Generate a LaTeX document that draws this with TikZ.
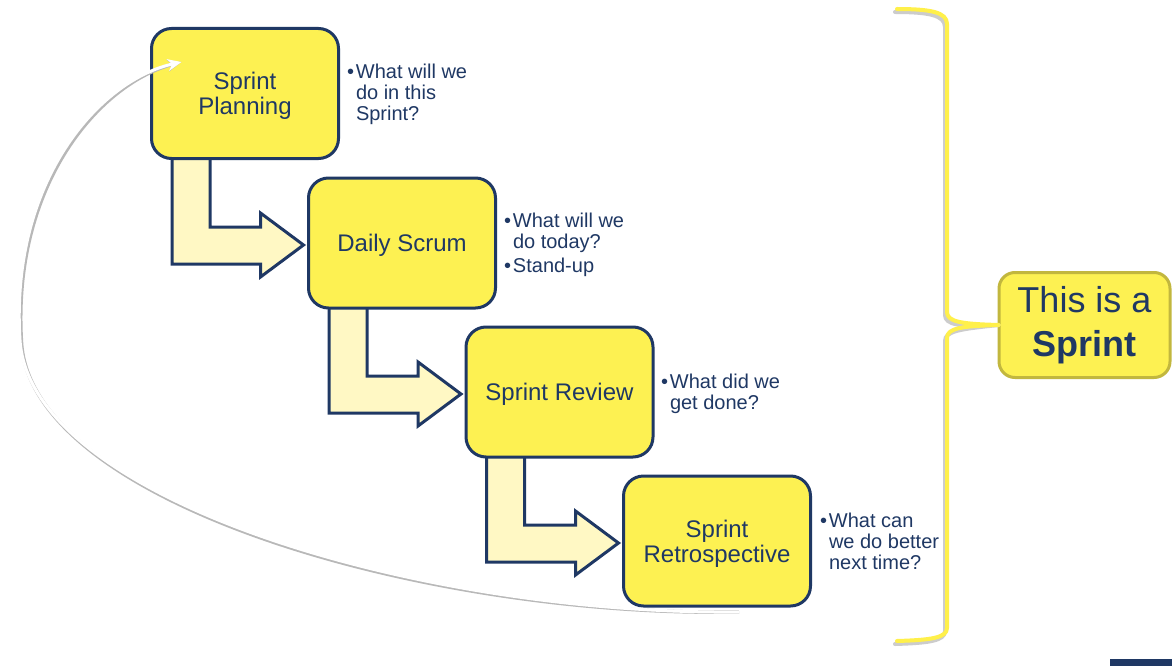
\documentclass[tikz,border=0pt]{standalone}
\usepackage{fontspec}
\setmainfont{Liberation Sans}
\usetikzlibrary{calc,arrows.meta}
\pgfdeclarelayer{background}
\pgfsetlayers{background,main}
\definecolor{navy}{HTML}{1F3864}
\definecolor{boxyellow}{HTML}{FDF152}
\definecolor{lightyellow}{HTML}{FFF8C4}
\definecolor{olive}{HTML}{C2B73E}
\definecolor{braceyellow}{HTML}{FFF04A}
\tikzset{
  stepbox/.style={draw=navy, line width=3pt, fill=boxyellow, rounded corners=20pt,
    minimum width=187pt, minimum height=130pt, inner sep=0pt, outer sep=0pt,
    align=center, text=navy, font=\fontsize{24}{25}\selectfont},
  flowarrow/.style={draw=navy, line width=3pt, fill=lightyellow, line join=miter},
  note/.style={anchor=base west, inner sep=0pt, outer sep=0pt, text=navy,
    font=\fontsize{20}{21}\selectfont},
  sprintbox/.style={draw=olive, line width=3pt, fill=boxyellow, rounded corners=16pt,
    minimum width=171pt, minimum height=105pt, inner sep=0pt, outer sep=0pt,
    align=center, text=navy, font=\fontsize{36}{44}\selectfont},
  bracket/.style={draw=braceyellow, line width=4pt, line cap=round, line join=round},
  bracketshadow/.style={draw=black!20, line width=4pt, line cap=round, line join=round},
  loopline/.style={draw=white, line width=3pt, -{Stealth[length=14pt,width=12pt]}},
  loopshadow/.style={draw=black!28, line width=3.5pt, -{Stealth[length=14pt,width=12pt]}}
}
\newcommand\bul[1]{\makebox[9pt][l]{\textbullet}\parbox[t]{150pt}{\raggedright #1}}
\newcommand\lowered[1]{\raisebox{-2.5pt}[\height][\depth]{#1}}
\newcommand\bentarrow[2]{%
  \coordinate (#1-s) at ($(#1.south west)+(20.5,-8)$);
  \coordinate (#1-t) at ($(#2.west)+(-5,2)$);
  \draw[flowarrow] (#1-s) -- ++(38,0) |- ($(#1-t)+(-43,-18)$) -- ++(0,-14) -- (#1-t)
    -- ($(#1-t)+(-43,32)$) -- ++(0,-13) -| (#1-s) -- cycle;}
\begin{document}
\begin{tikzpicture}[x=1pt,y=-1pt]
\useasboundingbox (0,0) rectangle (1172,666);
\begin{pgfonlayer}{background}
\fill[white] (0,0) rectangle (1172,666);
\end{pgfonlayer}

% step boxes
\node[stepbox] (plan) at (245,93.5) {\lowered{\shortstack{Sprint\\[0pt]Planning}}};
\node[stepbox] (daily) at (402,243) {\lowered{Daily Scrum}};
\node[stepbox] (review) at (559.5,392) {\lowered{Sprint Review}};
\node[stepbox] (retro) at (717,541) {\lowered{\shortstack{Sprint\\[0pt]Retrospective}}};

% bent arrows behind the boxes
\begin{pgfonlayer}{background}
\bentarrow{plan}{daily}
\bentarrow{daily}{review}
\bentarrow{review}{retro}
\end{pgfonlayer}

% notes
\node[note] (nplan) at (347,79) {\bul{What will we\\do in this\\Sprint?}};
\node[note] (ndaily) at (504,227) {\bul{What will we\\do today?}};
\node[note] (nstand) at (504,272) {\bul{Stand-up}};
\node[note] (nreview) at (661,388) {\bul{What did we\\get done?}};
\node[note] (nretro) at (820,527) {\bul{What can\\we do better\\next time?}};

% loop back arrow
\coordinate (loopstart) at ($(retro.south)+(22,6)$);
\coordinate (loopend) at ($(plan.west)+(30,-31.5)$);
\begin{scope}[shift={(1.5,2.5)}]
\draw[loopshadow] (loopstart) .. controls (420,615) and (30,500) .. (20,340)
  .. controls (10,180) and (100,80) .. (loopend);
\end{scope}
\draw[loopline] (loopstart) .. controls (420,615) and (30,500) .. (20,340)
  .. controls (10,180) and (100,80) .. (loopend);

% right box
\node[sprintbox] (sprint) at (1084.5,325) {This is a\\\textbf{Sprint}};

% brace
\coordinate (tip) at (sprint.west);
\begin{scope}[shift={(-2,3)}]
\draw[bracketshadow] (897,9) .. controls (930,9) and (947,12) .. (947,24) -- (947,312)
  .. controls (947,322) and (962,324) .. (tip) .. controls (962,326) and (947,328) .. (947,338)
  -- (947,628) .. controls (947,638) and (930,640) .. (897,641);
\end{scope}
\draw[bracket] (897,9) .. controls (930,9) and (947,12) .. (947,24) -- (947,312)
  .. controls (947,322) and (962,324) .. (tip) .. controls (962,326) and (947,328) .. (947,338)
  -- (947,628) .. controls (947,638) and (930,640) .. (897,641);

% corner mark
\fill[navy] (1110,659) rectangle (1172,666);
\end{tikzpicture}
\end{document}
